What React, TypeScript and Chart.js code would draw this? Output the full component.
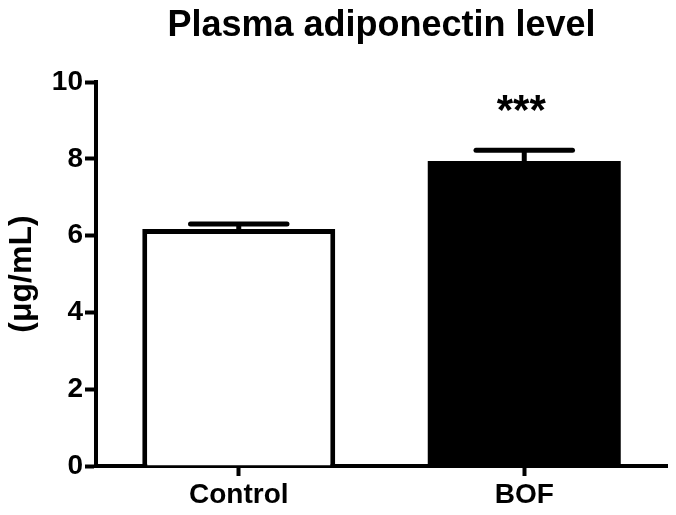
import React, { useEffect, useRef } from "react";
import { Chart, registerables } from "chart.js";

Chart.register(...registerables);

const categories = ["Control", "BOF"];
const means = [6.17, 7.94];
const sems = [0.13, 0.28];
const significance = ["", "***"];
const yTicks = [0, 2, 4, 6, 8, 10];
const titleText = "Plasma adiponectin level";
const yTitle = "(μg/mL)";

const FONT = "'Liberation Sans', Arial, Helvetica, sans-serif";

export default function App() {
  const ref = useRef<HTMLCanvasElement | null>(null);

  useEffect(() => {
    if (!ref.current) return;
    const overlay = {
      id: "overlay",
      afterDatasetsDraw(chart: any) {
        const ctx = chart.ctx;
        const meta = chart.getDatasetMeta(0);
        const ys = chart.scales.y;
        ctx.save();
        ctx.strokeStyle = "#000";
        ctx.lineWidth = 5;
        meta.data.forEach((bar: any, i: number) => {
          const x = bar.x;
          const w = bar.width;
          const yTop = ys.getPixelForValue(means[i] + sems[i]);
          const yVal = ys.getPixelForValue(means[i]);
          ctx.beginPath();
          ctx.lineCap = "butt";
          ctx.moveTo(x, yVal);
          ctx.lineTo(x, yTop);
          ctx.stroke();
          ctx.lineCap = "round";
          ctx.beginPath();
          ctx.moveTo(x - w / 4, yTop);
          ctx.lineTo(x + w / 4, yTop);
          ctx.stroke();
          if (significance[i]) {
            ctx.fillStyle = "#000";
            ctx.font = `bold 42px ${FONT}`;
            ctx.textAlign = "center";
            ctx.textBaseline = "middle";
            ctx.fillText(significance[i], x - 3, yTop - 38);
          }
        });
        ctx.restore();
      },
      afterDraw(chart: any) {
        const ctx = chart.ctx;
        const a = chart.chartArea;
        ctx.save();
        ctx.fillStyle = "#000";
        ctx.font = `bold 36px ${FONT}`;
        ctx.textAlign = "center";
        ctx.textBaseline = "alphabetic";
        ctx.fillText(titleText, (a.left + a.right) / 2, 36);
        ctx.restore();
      },
    };

    const chart = new Chart(ref.current, {
      type: "bar",
      data: {
        labels: categories,
        datasets: [
          {
            data: means,
            backgroundColor: ["#ffffff", "#000000"],
            borderColor: "#000000",
            borderWidth: [5, 0],
            borderSkipped: "bottom",
            barPercentage: 0.676,
            categoryPercentage: 1,
          },
        ],
      },
      options: {
        responsive: false,
        animation: false,
        layout: { padding: { top: 82, right: 9, bottom: 0, left: 0 } },
        plugins: {
          legend: { display: false },
          title: { display: false },
          tooltip: { enabled: false },
        },
        scales: {
          x: {
            offset: true,
            grid: {
              offset: false,
              drawOnChartArea: false,
              drawTicks: true,
              tickLength: 10,
              tickWidth: 4,
              tickColor: "#000",
            },
            border: { display: true, color: "#000", width: 4 },
            ticks: {
              color: "#000",
              font: { family: FONT, size: 28, weight: "bold" },
              padding: 2,
              maxRotation: 0,
            },
            afterFit(scale: any) {
              scale.height = 49;
            },
          },
          y: {
            min: 0,
            max: 10,
            afterBuildTicks(scale: any) {
              scale.ticks = yTicks.map((v) => ({ value: v }));
            },
            grid: {
              drawOnChartArea: false,
              drawTicks: true,
              tickLength: 11,
              tickWidth: 4,
              tickColor: "#000",
            },
            border: { display: true, color: "#000", width: 4 },
            ticks: {
              color: "#000",
              font: { family: FONT, size: 28, weight: "bold" },
              padding: 2,
            },
            title: {
              display: true,
              text: yTitle,
              color: "#000",
              font: { family: FONT, size: 32, weight: "bold" },
              padding: { top: 3, bottom: 0 },
            },
            afterFit(scale: any) {
              scale.width = 96;
            },
          },
        },
      },
      plugins: [overlay],
    } as any);
    return () => chart.destroy();
  }, []);

  return (
    <div style={{ position: "absolute", left: 0, top: 0, width: 676, height: 515, background: "#fff" }}>
      <canvas ref={ref} width={676} height={515} style={{ width: 676, height: 515, display: "block" }} />
    </div>
  );
}
